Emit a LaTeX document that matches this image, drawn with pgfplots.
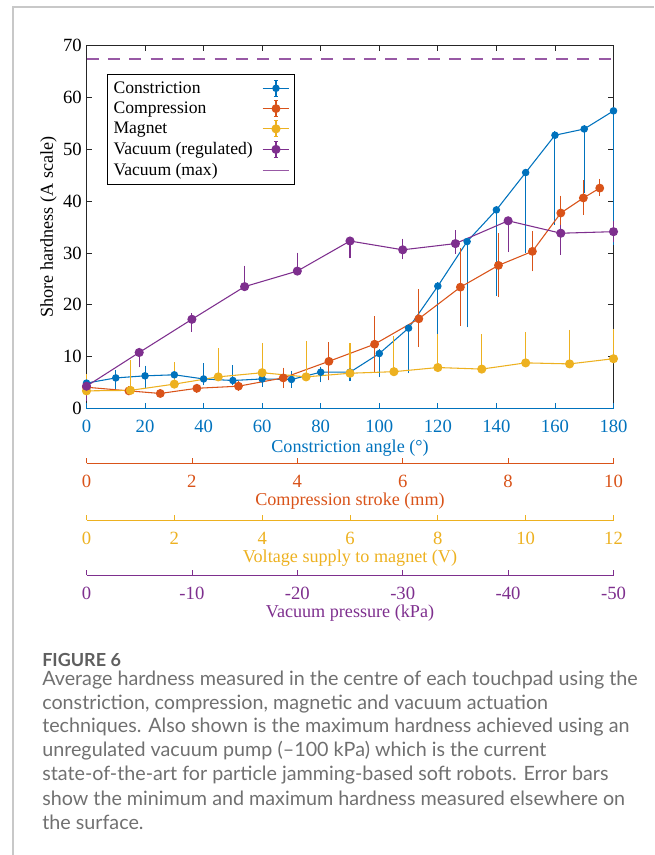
\documentclass[border=0pt]{standalone}
\usepackage{pgfplots}
\pgfplotsset{compat=1.18}
\usepackage{fontspec}
\setmainfont{Liberation Serif}
\newfontfamily\capfont{Lato}
\definecolor{mblue}{HTML}{0072BD}
\definecolor{morange}{HTML}{D95319}
\definecolor{myellow}{HTML}{EDB120}
\definecolor{mpurple}{HTML}{7E2F8E}
\definecolor{axgray}{HTML}{262626}
\definecolor{capgray}{HTML}{707070}
\definecolor{framegray}{HTML}{C8C8C8}

\newcommand\tickfont{\fontsize{14}{16}\selectfont}
\newcommand\labfont{\fontsize{13.6}{16}\selectfont}
\newcommand\legfont{\fontsize{13.2}{15}\selectfont}

\pgfplotsset{
  every axis/.append style={
    scale only axis, width=395.25pt,
    /pgf/number format/assume math mode=true,
    tick label style={font=\tickfont}, label style={font=\labfont},
    tick align=inside, major tick length=4pt, xticklabel shift=5.5pt,
  },
  scaleaxis/.style={height=20pt, anchor=south west, axis y line=none, axis x line*=bottom,
    ymin=0, ymax=1, clip=false,
    axis line style={draw=#1, line width=0.6pt}, x tick style={draw=#1, line width=0.6pt},
    xticklabel style={text=#1}, xlabel style={text=#1, yshift=3pt}},
  errleg/.style={legend image code/.code={
    \draw[mark repeat=2,mark phase=2,##1] plot coordinates {(0pt,0pt) (10pt,0pt) (20pt,0pt)};
    \draw[##1,mark=none] (10pt,-6pt) -- (10pt,6pt) (8.5pt,6pt) -- (11.5pt,6pt) (8.5pt,-6pt) -- (11.5pt,-6pt);}},
  ser/.style={color=#1, line width=0.8pt, mark=*, errleg,
    error bars/.cd, y dir=both, y explicit,
    error bar style={line width=0.8pt, #1},
    error mark options={line width=0.8pt, #1, mark size=1.8pt}},
}

\begin{document}
\begin{tikzpicture}
\begin{scope}[x=0.75pt,y=-0.75pt]
  \path[use as bounding box] (0,0) rectangle (654,855);
  \draw[framegray, line width=1.1pt] (13,855) -- (13,7) -- (654,7);
\end{scope}

% frame axis (top and side ticks)
\begin{axis}[at={(64.875pt,-306.375pt)}, anchor=south west, height=272.25pt,
  xmin=0, xmax=180, ymin=0, ymax=70,
  axis line style={draw=axgray, line width=0.6pt},
  tick style={draw=axgray, line width=0.6pt},
  xtick={0,20,...,180}, xtick pos=right, xticklabel style={text opacity=0},
  ytick={0,10,...,70}, ytick pos=both, yticklabel pos=left,
  ylabel={Shore hardness (A scale)}, ylabel style={yshift=-2pt}]
\end{axis}

% data axis
\begin{axis}[at={(64.875pt,-306.375pt)}, anchor=south west, height=272.25pt,
  xmin=0, xmax=180, ymin=0, ymax=70, clip=false,
  axis x line*=bottom, axis y line=none,
  axis line style={draw=mblue, line width=0.6pt},
  x tick style={draw=mblue, line width=0.6pt},
  xtick={0,20,...,180}, xticklabel style={text=mblue},
  xlabel={Constriction angle (\textdegree)}, xlabel style={text=mblue, yshift=2pt},
  legend plot pos=right, legend cell align=left,
  legend style={at={(0.038,0.921)}, anchor=north west, draw=black, line width=0.5pt,
    font=\legfont, nodes={font=\legfont}, row sep=1pt, inner xsep=3pt, inner ysep=3.2pt,
    /tikz/every odd column/.append style={column sep=5pt}}]

\addplot[mark size=2.4pt, ser=mblue] coordinates {
 (0,4.9) += (0,1.0) -= (0,1.0)
 (10,5.9) += (0,1.0) -= (0,1.6)
 (20,6.3) += (0,1.5) -= (0,1.8)
 (30,6.5) += (0,2.0) -= (0,1.3)
 (40,5.7) += (0,2.6) -= (0,0.8)
 (50,5.4) += (0,2.5) -= (0,0.5)
 (60,5.7) += (0,0.7) -= (0,1.0)
 (70,5.6) += (0,1.2) -= (0,1.2)
 (80,7.0) += (0,0.6) -= (0,1.5)
 (90,7.0) += (0,0.8) -= (0,1.3)
 (100,10.6) += (0,0.4) -= (0,4.1)
 (110,15.5) += (0,0.3) -= (0,8.2)
 (120,23.6) += (0,0.3) -= (0,12.3)
 (130,32.2) += (0,0.3) -= (0,16.1)
 (140,38.3) += (0,0.3) -= (0,16.1)
 (150,45.5) += (0,0.3) -= (0,15.0)
 (160,52.7) += (0,0.3) -= (0,16.8)
 (170,53.9) += (0,0.3) -= (0,11.9)
 (180,57.4) += (0,0.3) -= (0,25.5)
};
\addlegendentry{Constriction}

\addplot[mark size=2.9pt, ser=morange] coordinates {
 (0,4.1) += (0,0.8) -= (0,0.8)
 (14.5,3.4) += (0,0.4) -= (0,0.4)
 (25.2,2.9) += (0,0.3) -= (0,0.3)
 (37.7,3.9) += (0,0.4) -= (0,0.4)
 (51.9,4.3) += (0,0.5) -= (0,0.5)
 (67.2,5.9) += (0,1.5) -= (0,1.5)
 (82.8,9.1) += (0,3.2) -= (0,3.2)
 (98.4,12.4) += (0,4.9) -= (0,5.1)
 (113.5,17.3) += (0,5.2) -= (0,5.0)
 (127.7,23.4) += (0,7.1) -= (0,7.0)
 (140.7,27.6) += (0,5.7) -= (0,5.7)
 (152.3,30.3) += (0,3.4) -= (0,3.4)
 (162,37.7) += (0,2.9) -= (0,3.0)
 (169.7,40.6) += (0,3.0) -= (0,2.8)
 (175.3,42.5) += (0,1.3) -= (0,1.1)
};
\addlegendentry{Compression}

\addplot[mark size=3pt, ser=myellow] coordinates {
 (0,3.4) += (0,2.7) -= (0,0.2)
 (15,3.5) += (0,5.4) -= (0,0.2)
 (30,4.7) += (0,3.8) -= (0,0.2)
 (45,6.1) += (0,5.1) -= (0,0.2)
 (60,6.9) += (0,5.2) -= (0,0.2)
 (75,6.1) += (0,6.4) -= (0,0.2)
 (90,6.8) += (0,5.3) -= (0,0.2)
 (105,7.1) += (0,6.4) -= (0,0.2)
 (120,7.9) += (0,6.0) -= (0,0.2)
 (135,7.6) += (0,6.3) -= (0,0.2)
 (150,8.8) += (0,5.4) -= (0,0.2)
 (165,8.6) += (0,6.1) -= (0,0.2)
 (180,9.6) += (0,5.3) -= (0,0.2)
};
\addlegendentry{Magnet}

\addplot[mark size=3pt, ser=mpurple] coordinates {
 (0,4.3) += (0,0.8) -= (0,2.3)
 (18,10.8) += (0,0.5) -= (0,2.4)
 (36,17.2) += (0,0.8) -= (0,1.9)
 (54,23.5) += (0,3.6) -= (0,0.3)
 (72,26.5) += (0,3.1) -= (0,0.3)
 (90,32.3) += (0,0.3) -= (0,2.9)
 (108,30.6) += (0,1.7) -= (0,1.4)
 (126,31.8) += (0,2.1) -= (0,1.5)
 (144,36.2) += (0,0.3) -= (0,5.6)
 (162,33.8) += (0,1.2) -= (0,3.7)
 (180,34.1) += (0,1.5) -= (0,1.6)
};
\addlegendentry{Vacuum (regulated)}

\addplot[color=mpurple!80, line width=0.8pt, dash pattern=on 9pt off 7pt,
  legend image code/.code={\draw[solid, color=mpurple!80, line width=0.7pt] (0pt,0pt) -- (20pt,0pt);}]
  coordinates {(0,67.4) (180,67.4)};
\addlegendentry{Vacuum (max)}
\end{axis}

% secondary scales
\begin{axis}[scaleaxis=morange, at={(64.875pt,-347.5pt)},
  xmin=0, xmax=10, xtick={0,2,...,10}, xlabel={Compression stroke (mm)}]
\end{axis}
\begin{axis}[scaleaxis=myellow, at={(64.875pt,-390pt)},
  xmin=0, xmax=12, xtick={0,2,...,12}, xlabel={Voltage supply to magnet (V)}]
\end{axis}
\begin{axis}[scaleaxis=mpurple, at={(64.875pt,-431.25pt)},
  xmin=0, xmax=50, xtick={0,10,...,50}, xticklabels={0,-10,-20,-30,-40,-50},
  xlabel={Vacuum pressure (kPa)}]
\end{axis}

\begin{scope}[x=0.75pt,y=-0.75pt]
  \node[anchor=west, inner sep=0pt, text=capgray!85!black, font=\capfont\bfseries\fontsize{13.5}{15}\selectfont] at (42,660) {FIGURE 6};
  \begin{scope}[every node/.style={anchor=west, inner sep=0pt, text=capgray, font=\capfont\fontsize{14.8}{17}\selectfont}]
  \node at (42,680) {Average hardness measured in the centre of each touchpad using the};
  \node at (42,703.7) {constriction, compression, magnetic and vacuum actuation};
  \node at (42,727.3) {techniques. Also shown is the maximum hardness achieved using an};
  \node at (42,751) {unregulated vacuum pump (\textendash100 kPa) which is the current};
  \node at (42,774.7) {state-of-the-art for particle jamming-based soft robots. Error bars};
  \node at (42,798.3) {show the minimum and maximum hardness measured elsewhere on};
  \node at (42,822) {the surface.};
  \end{scope}
\end{scope}
\end{tikzpicture}
\end{document}
